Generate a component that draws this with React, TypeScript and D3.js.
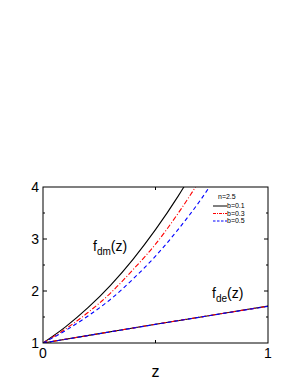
import React from "react";
import * as d3 from "d3";

const zDm1 = [0, 0.1, 0.2, 0.3, 0.4, 0.5, 0.6, 0.65];
const fDm1 = [1, 1.31, 1.68, 2.11, 2.61, 3.18, 3.82, 4.17];
const zDm3 = [0, 0.1, 0.2, 0.3, 0.4, 0.5, 0.6, 0.7];
const fDm3 = [1, 1.27, 1.586, 1.96, 2.41, 2.9, 3.49, 4.15];
const zDm5 = [0, 0.1, 0.2, 0.3, 0.4, 0.5, 0.6, 0.7, 0.8];
const fDm5 = [1, 1.24, 1.52, 1.84, 2.23, 2.67, 3.18, 3.75, 4.4];
const zDe = [0, 0.25, 0.5, 0.75, 1];
const fDe1 = [1, 1.18, 1.36, 1.535, 1.71];
const fDe3 = [1, 1.18, 1.36, 1.535, 1.708];
const fDe5 = [1, 1.179, 1.358, 1.533, 1.705];
const xTicks = [0, 1];
const yTicks = [1, 2, 3, 4];
const xMinor = [0.5];
const yMinor = [1.5, 2.5, 3.5];
const legendLabels = ["b=0.1", "b=0.3", "b=0.5"];

const W = 298, H = 385;
const L = 43, R = 268, T = 187, B = 343;

export default function App() {
  const x = d3.scaleLinear().domain([0, 1]).range([L, R]);
  const y = d3.scaleLinear().domain([1, 4]).range([B, T]);
  const line = d3.line<[number, number]>().x(d => x(d[0])).y(d => y(d[1])).curve(d3.curveMonotoneX);
  const pts = (zs: number[], fs: number[]) => zs.map((z, i) => [z, fs[i]] as [number, number]);
  const series = [
    { color: "#000", dash: undefined as string | undefined },
    { color: "#ff0000", dash: "5,2,1,2" },
    { color: "#0000ff", dash: "4,3" },
  ];
  const dm = [pts(zDm1, fDm1), pts(zDm3, fDm3), pts(zDm5, fDm5)];
  const de = [pts(zDe, fDe1), pts(zDe, fDe3), pts(zDe, fDe5)];
  const font = "Liberation Sans, Arial, sans-serif";
  return (
    <svg width={W} height={H} style={{ position: "absolute", left: 0, top: 0 }} fontFamily={font}>
      <rect width={W} height={H} fill="#fff" />
      <defs>
        <clipPath id="plot"><rect x={L} y={T} width={R - L} height={B - T} /></clipPath>
      </defs>
      <g clipPath="url(#plot)">
        {de.map((p, i) => (
          <path key={"de" + i} d={line(p) || ""} fill="none" stroke={series[i].color} strokeWidth={1.1} strokeDasharray={series[i].dash} />
        ))}
        {dm.map((p, i) => (
          <path key={"dm" + i} d={line(p) || ""} fill="none" stroke={series[i].color} strokeWidth={1.1} strokeDasharray={series[i].dash} />
        ))}
      </g>
      <rect x={L} y={T} width={R - L} height={B - T} fill="none" stroke="#000" strokeWidth={1} />
      {yTicks.slice(1, -1).map(v => (
        <g key={"yt" + v}>
          <line x1={L} x2={L + 4} y1={y(v)} y2={y(v)} stroke="#000" />
          <line x1={R} x2={R - 4} y1={y(v)} y2={y(v)} stroke="#000" />
        </g>
      ))}
      {yMinor.map(v => (
        <g key={"ym" + v}>
          <line x1={L} x2={L + 2} y1={y(v)} y2={y(v)} stroke="#000" />
          <line x1={R} x2={R - 2} y1={y(v)} y2={y(v)} stroke="#000" />
        </g>
      ))}
      {xMinor.map(v => (
        <g key={"xm" + v}>
          <line x1={x(v)} x2={x(v)} y1={B} y2={B - 3} stroke="#000" />
          <line x1={x(v)} x2={x(v)} y1={T} y2={T + 3} stroke="#000" />
        </g>
      ))}
      {yTicks.map(v => (
        <text key={"yl" + v} x={L - 4} y={y(v)} dy="0.36em" textAnchor="end" fontSize={14}>{v}</text>
      ))}
      {xTicks.map(v => (
        <text key={"xl" + v} x={x(v)} y={B + 15} textAnchor="middle" fontSize={14}>{v}</text>
      ))}
      <text x={(L + R) / 2} y={377} textAnchor="middle" fontSize={16}>z</text>
      <text x={93} y={251} fontSize={14}>f<tspan fontSize={10} dy={4}>dm</tspan><tspan dy={-4}>(z)</tspan></text>
      <text x={212} y={298} fontSize={14}>f<tspan fontSize={10} dy={4}>de</tspan><tspan dy={-4}>(z)</tspan></text>
      <text x={218} y={199} fontSize={7}>n=2.5</text>
      {legendLabels.map((lab, i) => (
        <g key={lab}>
          <line x1={213} x2={227} y1={206 + i * 7.5} y2={206 + i * 7.5} stroke={series[i].color} strokeWidth={1} strokeDasharray={i === 1 ? "3,1,1,1" : i === 2 ? "2.5,1.5" : undefined} />
          <text x={227} y={206 + i * 7.5} dy="0.35em" fontSize={7}>{lab}</text>
        </g>
      ))}
    </svg>
  );
}
